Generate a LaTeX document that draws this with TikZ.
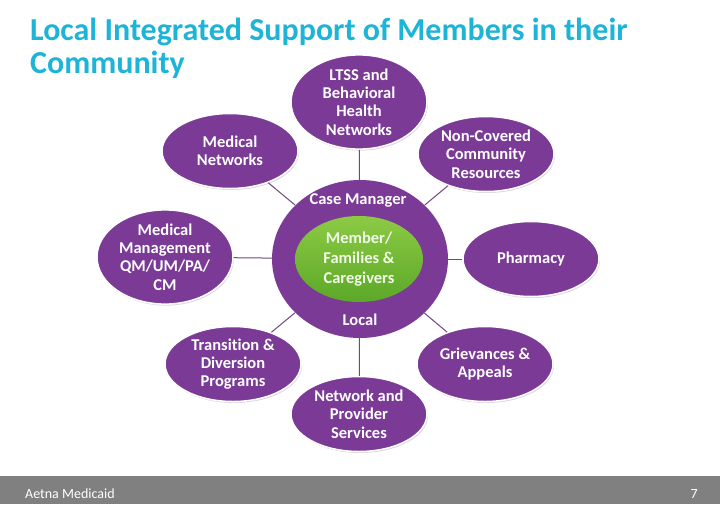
\documentclass[tikz,border=0pt]{standalone}
\usepackage{fontspec}
\setmainfont{Carlito}[Ligatures=NoCommon]
\usetikzlibrary{shapes.geometric,shadows}
\definecolor{titlecyan}{RGB}{30,180,215}
\definecolor{hubpurple}{RGB}{122,58,150}
\definecolor{linkpurple}{RGB}{105,75,125}
\definecolor{leaflight}{RGB}{140,202,68}
\definecolor{leafdark}{RGB}{92,168,40}
\definecolor{footgray}{RGB}{128,128,128}

\begin{document}
\begin{tikzpicture}[x=1pt,y=-1pt,
  bubble/.style={ellipse,fill=hubpurple,draw=white,line width=1.5pt,minimum width=136pt,minimum height=75pt,inner sep=0pt,text=white,align=center,font=\fontsize{16.5}{18.3}\selectfont\bfseries,drop shadow={opacity=0.3,shadow xshift=1pt,shadow yshift=-1.5pt}},
  link/.style={draw=linkpurple,line width=1pt}]
\useasboundingbox (0,0) rectangle (720,504);
% title
\node[anchor=base west,inner sep=0pt,text=titlecyan,font=\fontsize{32}{33}\selectfont\bfseries] (title1) at (30,40) {Local Integrated Support of Members in their};
\node[anchor=base west,inner sep=0pt,text=titlecyan,font=\fontsize{32}{33}\selectfont\bfseries] (title2) at (30,73) {Community};
% footer
\fill[footgray] (0,476) rectangle (720,504);
\node[anchor=base west,inner sep=0pt,text=white,font=\fontsize{14}{16}\selectfont] (foot) at (25,498) {Aetna Medicaid};
\node[anchor=base east,inner sep=0pt,text=white,font=\fontsize{14}{16}\selectfont] (page) at (698,498) {7};
% hub
\node[ellipse,fill=hubpurple,minimum width=176pt,minimum height=158pt,inner sep=0pt] (hub) at (360,259) {};
\node[ellipse,top color=leaflight,bottom color=leafdark,minimum width=128pt,minimum height=86pt,inner sep=0pt,align=center,text=white!88!leaflight,font=\fontsize{16.5}{20}\selectfont\bfseries] (core) at (359,259) {Member/\\Families \&\\Caregivers};
\node[text=white,font=\fontsize{16.5}{18}\selectfont\bfseries] (casemgr) at (358,200) {Case Manager};
\node[text=white,font=\fontsize{16.5}{18}\selectfont\bfseries] (local) at (360,320) {Local};
% satellites
\node[bubble] (ltss) at (359,102) {LTSS and\\Behavioral\\Health\\Networks};
\node[bubble] (mednet) at (230,151) {Medical\\Networks};
\node[bubble] (noncov) at (486,154) {Non-Covered\\Community\\Resources};
\node[bubble] (medmgmt) at (165,257) {Medical\\Management\\QM/UM/PA/\\CM};
\node[bubble] (pharm) at (531,259) {Pharmacy};
\node[bubble] (trans) at (233,364) {Transition \&\\Diversion\\Programs};
\node[bubble] (griev) at (485,364) {Grievances \&\\Appeals};
\node[bubble] (netprov) at (359,414) {Network and\\Provider\\Services};
% connectors
\foreach \leaf in {ltss,mednet,noncov,medmgmt,pharm,trans,griev,netprov}
  \draw[link] (hub) -- (\leaf);
\end{tikzpicture}
\end{document}
